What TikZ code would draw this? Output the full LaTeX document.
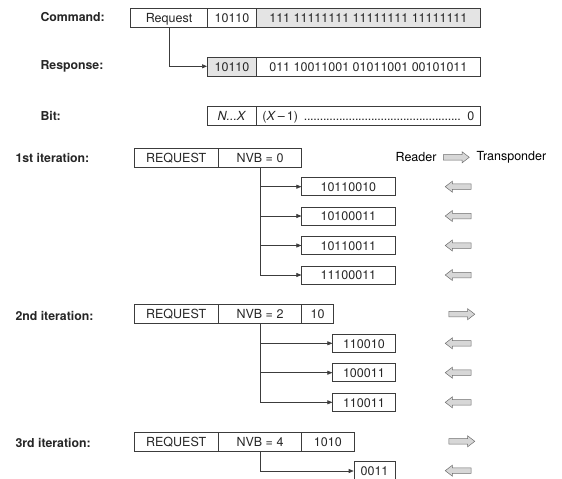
\documentclass[tikz,border=0pt]{standalone}
\usepackage{fontspec}
\setmainfont{TeX Gyre Heros}
\usepackage{xcolor}
\usetikzlibrary{arrows.meta, shapes.arrows}
\definecolor{boxline}{RGB}{60,60,60}
\definecolor{boxfill}{RGB}{228,228,228}
\definecolor{arrfill}{RGB}{215,215,215}
\definecolor{arrline}{RGB}{110,110,110}
\newcommand{\tightdots}{\leaders\hbox to 3.2pt{\hss.\hss}\hfill}

\begin{document}
\begin{tikzpicture}[x=1pt, y=-1pt,
  every node/.style={font=\fontsize{12.5}{14}\selectfont},
  lbl/.style={anchor=west, font=\fontsize{12.3}{14}\selectfont\bfseries, text=black!85},
  cell/.style={rectangle, draw=boxline, line width=0.6pt, minimum height=19pt,
               inner sep=0pt, text height=9.5pt, text depth=0pt, text=black!85},
  gcell/.style={cell, fill=boxfill},
  flow/.style={-{Triangle[length=5pt, width=4pt]}, line width=0.6pt, color=boxline},
  tag/.style={single arrow, draw=arrline, fill=arrfill, line width=0.5pt,
              minimum height=26pt, inner sep=0pt, text height=5pt, text depth=0pt,
              single arrow head extend=2.8pt, single arrow head indent=0pt,
              single arrow tip angle=75},
  toreader/.style={tag, shape border rotate=180},
  totag/.style={tag},
]
\useasboundingbox (0,0) rectangle (562,479);

% Frame layout
\node[lbl] (lcmd) at (37,17.5)  {Command:};
\node[lbl] (lrsp) at (37,66.5)  {Response:};
\node[lbl] (lbit) at (37,116)   {Bit:};

\node[cell,  minimum width=76.6pt]  (cmdreq)  at (169,17.5)   {Request};
\node[cell,  minimum width=49.4pt]  (cmdid)   at (232,17.5)   {10110};
\node[gcell, minimum width=223.3pt] (cmdrest) at (368.35,17.5) {111 11111111 11111111 11111111};

\node[gcell, minimum width=49.4pt]  (rspid)   at (232,66.3)   {10110};
\node[cell,  minimum width=223.3pt] (rsprest) at (368.35,66.3) {011 10011001 01011001 00101011};

\node[cell,  minimum width=49.4pt]  (bitnx)   at (232,115.3)  {\textit{N...X}};
\node[cell,  minimum width=223.3pt] (bitrest) at (368.35,115.3)
     {\makebox[212pt]{(\textit{X}\,–\,1)\ \tightdots\ 0}};

\draw[flow] (cmdreq.south) |- (rspid.west);

% 1st iteration
\node[lbl] (lit1) at (12,158.3) {1st iteration:};
\node[cell, minimum width=84.3pt] (req1) at (176.15,157.8) {REQUEST};
\node[cell, minimum width=83.4pt] (nvb1) at (260,157.8)    {NVB = 0};

\node[anchor=east] (reader) at (440,157.3) {Reader};
\node[totag] (dir0) at (454.5,157.3) {};
\node[anchor=west] (transp) at (473,157.3) {Transponder};

\node[cell, minimum width=93.3pt, minimum height=18pt] (r11) at (348.35,186.7) {10110010};
\node[cell, minimum width=93.3pt, minimum height=18pt] (r12) at (348.35,216)   {10100011};
\node[cell, minimum width=93.3pt, minimum height=18pt] (r13) at (348.35,245.5) {10110011};
\node[cell, minimum width=93.3pt, minimum height=18pt] (r14) at (348.35,275)   {11100011};

\draw[flow] (nvb1.south) |- (r11.west);
\draw[flow] (nvb1.south) |- (r12.west);
\draw[flow] (nvb1.south) |- (r13.west);
\draw[flow] (nvb1.south) |- (r14.west);

\node[toreader] (d11) at (460,186.7) {};
\node[toreader] (d12) at (460,216)   {};
\node[toreader] (d13) at (460,245.5) {};
\node[toreader] (d14) at (460,275)   {};

% 2nd iteration
\node[lbl] (lit2) at (12,316) {2nd iteration:};
\node[cell, minimum width=84.3pt] (req2) at (176.15,314.2) {REQUEST};
\node[cell, minimum width=83.4pt] (nvb2) at (260,314.2)    {NVB = 2};
\node[cell, minimum width=31.6pt] (uid2) at (317.5,314.2)  {10};
\node[totag] (d20) at (460,314.2) {};

\node[cell, minimum width=62.3pt, minimum height=18pt] (r21) at (363.85,343.3) {110010};
\node[cell, minimum width=62.3pt, minimum height=18pt] (r22) at (363.85,372.7) {100011};
\node[cell, minimum width=62.3pt, minimum height=18pt] (r23) at (363.85,402.3) {110011};

\draw[flow] (nvb2.south) |- (r21.west);
\draw[flow] (nvb2.south) |- (r22.west);
\draw[flow] (nvb2.south) |- (r23.west);

\node[toreader] (d21) at (460,343.3) {};
\node[toreader] (d22) at (460,372.7) {};
\node[toreader] (d23) at (460,402.3) {};

% 3rd iteration
\node[lbl] (lit3) at (12,442.7) {3rd iteration:};
\node[cell, minimum width=84.3pt] (req3) at (176.15,441.3) {REQUEST};
\node[cell, minimum width=83.4pt] (nvb3) at (260,441.3)    {NVB = 4};
\node[cell, minimum width=52.3pt] (uid3) at (327.85,441.3) {1010};
\node[totag] (d30) at (460,441.3) {};

\node[cell, minimum width=41pt, minimum height=19pt] (r31) at (374.5,471) {0011};
\draw[flow] (nvb3.south) |- (r31.west);
\node[toreader] (d31) at (460,470.7) {};

\end{tikzpicture}
\end{document}
